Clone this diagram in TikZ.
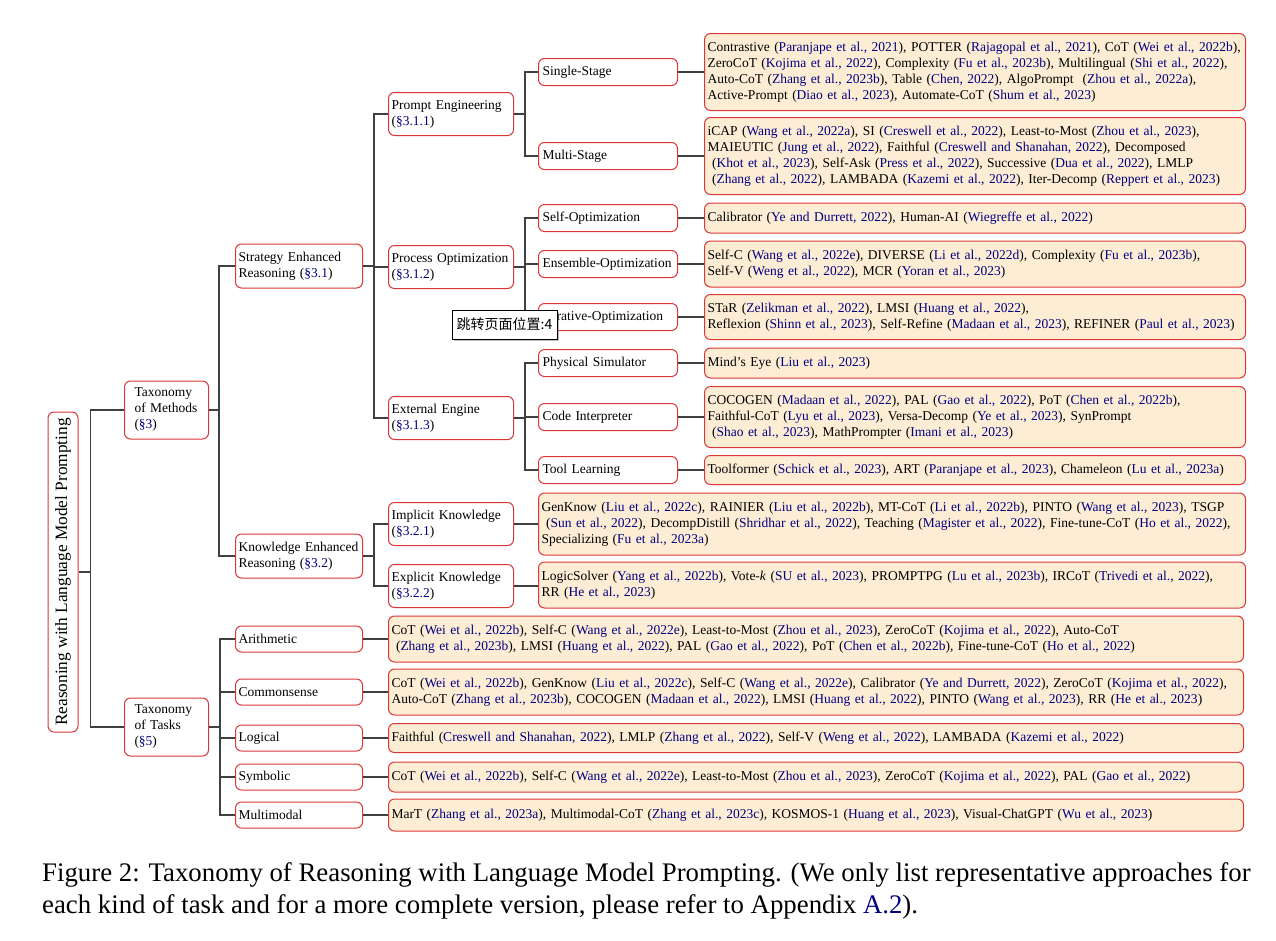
\documentclass[tikz,border=0pt]{standalone}
\usepackage{graphicx}
\usepackage{fontspec}
\setmainfont{Liberation Serif}
\newfontfamily\cjk{Noto Sans CJK SC}
\usetikzlibrary{shadows}

\definecolor{boxred}{RGB}{220,55,55}
\definecolor{leaffill}{RGB}{253,237,213}
\definecolor{citeblue}{RGB}{0,0,128}
\definecolor{linkgray}{RGB}{64,64,64}
\newcommand{\cit}[1]{(\textcolor{citeblue}{#1})}
\newcommand{\secn}[1]{(\textcolor{citeblue}{\S#1})}

\begin{document}
\begin{tikzpicture}[x=1pt,y=-1pt,font=\fontsize{13.5}{16}\selectfont,
  box/.style={draw=boxred,line width=1pt,rounded corners=6pt,fill=white,
    anchor=west,align=left,inner xsep=3pt,inner ysep=0pt},
  top/.style={box,text width=64pt,inner xsep=10pt,minimum height=58pt},
  sec/.style={box,text width=121pt,minimum height=44pt},
  tk/.style={box,text width=121pt,minimum height=26pt},
  mid/.style={box,text width=119pt,minimum height=43pt},
  sub/.style={box,text width=131pt,inner xsep=4pt,minimum height=27pt},
  leaf/.style={box,fill=leaffill,text width=#1},
  link/.style={draw=linkgray,line width=1.6pt}]
\useasboundingbox (0,0) rectangle (1276,940);

% root and the two taxonomies
\node[box,anchor=center,minimum width=30pt,minimum height=320pt,inner sep=0pt] (root) at (63,572)
  {\rotatebox{90}{\fontsize{17.3}{20}\selectfont Reasoning with Language Model Prompting}};
\node[top] (meth) at (124,410) {Taxonomy\\of Methods\\\secn{3}};
\node[top] (task) at (124,727) {Taxonomy\\of Tasks\\\secn{5}};

% methods
\node[sec] (strat) at (235,266) {Strategy Enhanced\\Reasoning \secn{3.1}};
\node[sec] (know) at (235,556) {Knowledge Enhanced\\Reasoning \secn{3.2}};

\node[mid] (pe) at (388,114) {Prompt Engineering\\\secn{3.1.1}};
\node[mid] (po) at (388,267) {Process Optimization\\\secn{3.1.2}};
\node[mid] (ee) at (388,418) {External Engine\\\secn{3.1.3}};
\node[mid] (ik) at (388,524) {Implicit Knowledge\\\secn{3.2.1}};
\node[mid] (ek) at (388,586) {Explicit Knowledge\\\secn{3.2.2}};

\node[sub] (ss) at (538,72) {Single-Stage};
\node[sub] (ms) at (538,156) {Multi-Stage};
\node[sub] (so) at (538,218) {Self-Optimization};
\node[sub] (en) at (538,264) {Ensemble-Optimization};
\node[sub] (it) at (538,317) {Iterative-Optimization};
\node[sub] (ps) at (538,363) {Physical Simulator};
\node[sub] (ci) at (538,417) {Code Interpreter};
\node[sub] (tl) at (538,470) {Tool Learning};

\node[leaf=535pt,minimum height=77pt] (ssL) at (704,72)
  {Contrastive \cit{Paranjape et al., 2021}, POTTER \cit{Rajagopal et al., 2021}, CoT \cit{Wei et al., 2022b},\\
   ZeroCoT \cit{Kojima et al., 2022}, Complexity \cit{Fu et al., 2023b}, Multilingual \cit{Shi et al., 2022},\\
   Auto-CoT \cit{Zhang et al., 2023b}, Table \cit{Chen, 2022}, AlgoPrompt \ \cit{Zhou et al., 2022a},\\
   Active-Prompt \cit{Diao et al., 2023}, Automate-CoT \cit{Shum et al., 2023}};
\node[leaf=535pt,minimum height=77pt] (msL) at (704,156)
  {iCAP \cit{Wang et al., 2022a}, SI \cit{Creswell et al., 2022}, Least-to-Most \cit{Zhou et al., 2023},\\
   MAIEUTIC \cit{Jung et al., 2022}, Faithful \cit{Creswell and Shanahan, 2022}, Decomposed\\
   \ \cit{Khot et al., 2023}, Self-Ask \cit{Press et al., 2022}, Successive \cit{Dua et al., 2022}, LMLP\\
   \ \cit{Zhang et al., 2022}, LAMBADA \cit{Kazemi et al., 2022}, Iter-Decomp \cit{Reppert et al., 2023}};
\node[leaf=535pt,minimum height=30pt] (soL) at (704,218)
  {Calibrator \cit{Ye and Durrett, 2022}, Human-AI \cit{Wiegreffe et al., 2022}};
\node[leaf=535pt,minimum height=46pt] (enL) at (704,264)
  {Self-C \cit{Wang et al., 2022e}, DIVERSE \cit{Li et al., 2022d}, Complexity \cit{Fu et al., 2023b},\\
   Self-V \cit{Weng et al., 2022}, MCR \cit{Yoran et al., 2023}};
\node[leaf=535pt,minimum height=45pt] (itL) at (704,317)
  {STaR \cit{Zelikman et al., 2022}, LMSI \cit{Huang et al., 2022},\\
   Reflexion \cit{Shinn et al., 2023}, Self-Refine \cit{Madaan et al., 2023}, REFINER \cit{Paul et al., 2023}};
\node[leaf=535pt,minimum height=30pt] (psL) at (704,363)
  {Mind’s Eye \cit{Liu et al., 2023}};
\node[leaf=535pt,minimum height=61pt] (ciL) at (704,417)
  {COCOGEN \cit{Madaan et al., 2022}, PAL \cit{Gao et al., 2022}, PoT \cit{Chen et al., 2022b},\\
   Faithful-CoT \cit{Lyu et al., 2023}, Versa-Decomp \cit{Ye et al., 2023}, SynPrompt\\
   \ \cit{Shao et al., 2023}, MathPrompter \cit{Imani et al., 2023}};
\node[leaf=535pt,minimum height=29pt] (tlL) at (704,470)
  {Toolformer \cit{Schick et al., 2023}, ART \cit{Paranjape et al., 2023}, Chameleon \cit{Lu et al., 2023a}};
\node[leaf=701pt,minimum height=62pt] (ikL) at (538,524)
  {GenKnow \cit{Liu et al., 2022c}, RAINIER \cit{Liu et al., 2022b}, MT-CoT \cit{Li et al., 2022b}, PINTO \cit{Wang et al., 2023}, TSGP\\
   \ \cit{Sun et al., 2022}, DecompDistill \cit{Shridhar et al., 2022}, Teaching \cit{Magister et al., 2022}, Fine-tune-CoT \cit{Ho et al., 2022},\\
   Specializing \cit{Fu et al., 2023a}};
\node[leaf=701pt,minimum height=46pt] (ekL) at (538,585)
  {LogicSolver \cit{Yang et al., 2022b}, Vote-\textit{k} \cit{SU et al., 2023}, PROMPTPG \cit{Lu et al., 2023b}, IRCoT \cit{Trivedi et al., 2022},\\
   RR \cit{He et al., 2023}};

% tasks
\node[tk] (arith) at (235,639) {Arithmetic};
\node[tk] (comm) at (235,692) {Commonsense};
\node[tk] (logi) at (235,738) {Logical};
\node[tk] (symb) at (235,777) {Symbolic};
\node[tk] (mult) at (235,815) {Multimodal};

\node[leaf=849pt,minimum height=46pt] (arithL) at (388,639)
  {CoT \cit{Wei et al., 2022b}, Self-C \cit{Wang et al., 2022e}, Least-to-Most \cit{Zhou et al., 2023}, ZeroCoT \cit{Kojima et al., 2022}, Auto-CoT\\
   \ \cit{Zhang et al., 2023b}, LMSI \cit{Huang et al., 2022}, PAL \cit{Gao et al., 2022}, PoT \cit{Chen et al., 2022b}, Fine-tune-CoT \cit{Ho et al., 2022}};
\node[leaf=849pt,minimum height=46pt] (commL) at (388,692)
  {CoT \cit{Wei et al., 2022b}, GenKnow \cit{Liu et al., 2022c}, Self-C \cit{Wang et al., 2022e}, Calibrator \cit{Ye and Durrett, 2022}, ZeroCoT \cit{Kojima et al., 2022},\\
   Auto-CoT \cit{Zhang et al., 2023b}, COCOGEN \cit{Madaan et al., 2022}, LMSI \cit{Huang et al., 2022}, PINTO \cit{Wang et al., 2023}, RR \cit{He et al., 2023}};
\node[leaf=849pt,minimum height=29pt] (logiL) at (388,738)
  {Faithful \cit{Creswell and Shanahan, 2022}, LMLP \cit{Zhang et al., 2022}, Self-V \cit{Weng et al., 2022}, LAMBADA \cit{Kazemi et al., 2022}};
\node[leaf=849pt,minimum height=30pt] (symbL) at (388,777)
  {CoT \cit{Wei et al., 2022b}, Self-C \cit{Wang et al., 2022e}, Least-to-Most \cit{Zhou et al., 2023}, ZeroCoT \cit{Kojima et al., 2022}, PAL \cit{Gao et al., 2022}};
\node[leaf=849pt,minimum height=32pt] (multL) at (388,815)
  {MarT \cit{Zhang et al., 2023a}, Multimodal-CoT \cit{Zhang et al., 2023c}, KOSMOS-1 \cit{Huang et al., 2023}, Visual-ChatGPT \cit{Wu et al., 2023}};

% connectors
\foreach \p/\c/\d in {root/meth/12,root/task/12,meth/strat/10,meth/know/10,
    strat/pe/11,strat/po/11,strat/ee/11,know/ik/11,know/ek/11,
    pe/ss/11,pe/ms/11,po/so/11,po/en/11,po/it/11,ee/ps/11,ee/ci/11,ee/tl/11,
    task/arith/11,task/comm/11,task/logi/11,task/symb/11,task/mult/11}
  \draw[link] (\p.east) -- ++(\d,0) |- (\c.west);
\foreach \p in {ss,ms,so,en,it,ps,ci,tl,ik,ek,arith,comm,logi,symb,mult}
  \draw[link] (\p.east) -- (\p.east -| \p L.west);

% viewer tooltip
\node[draw=black,fill=white,line width=0.8pt,inner sep=0pt,
  drop shadow={shadow xshift=2pt,shadow yshift=-2pt,opacity=0.5,fill=gray},
  minimum width=105pt,minimum height=29pt,font=\cjk\fontsize{14}{16}\selectfont]
  (tip) at (504.5,324.5) {跳转页面位置:4};

% caption
\node[anchor=north west,align=left,inner sep=0pt,font=\fontsize{26.8}{32}\selectfont] (cap) at (42,862)
  {Figure 2: Taxonomy of Reasoning with Language Model Prompting. (We only list representative approaches for\\
   each kind of task and for a more complete version, please refer to Appendix \textcolor{citeblue}{A.2}).};
\end{tikzpicture}
\end{document}
